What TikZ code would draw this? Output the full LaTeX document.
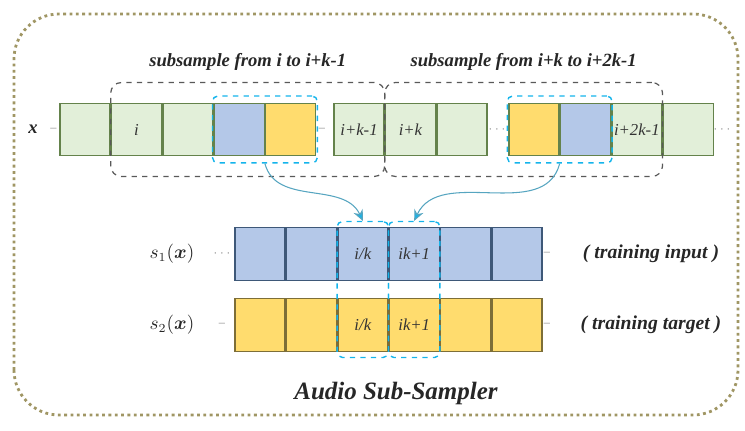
\documentclass[tikz,border=0pt]{standalone}
\usepackage{fontspec}
\usepackage{bm}
\setmainfont{Liberation Serif}
\usetikzlibrary{positioning,fit,arrows.meta}

\definecolor{cellgreen}{RGB}{226,239,217}
\definecolor{linegreen}{RGB}{100,130,75}
\definecolor{cellblue}{RGB}{180,200,232}
\definecolor{lineblue}{RGB}{62,88,120}
\definecolor{cellyellow}{RGB}{255,220,110}
\definecolor{lineyellow}{RGB}{125,110,55}
\definecolor{cyanline}{RGB}{20,180,235}
\definecolor{frameolive}{RGB}{160,150,100}

\tikzset{
  cell/.style={draw, line width=0.8pt, minimum width=1cm, minimum height=1.05cm, inner sep=0pt,
    font=\fontsize{9.5}{10}\selectfont\itshape, text=black!80},
  gcell/.style={cell, fill=cellgreen, draw=linegreen},
  bcell/.style={cell, fill=cellblue, draw=lineblue},
  ycell/.style={cell, fill=cellyellow, draw=lineyellow},
  lbl/.style={font=\fontsize{10.6}{12}\selectfont\bfseries\itshape, text=black!85},
  gap/.style={font=\fontsize{7}{8}\selectfont, text=black!45, inner sep=0pt},
  grpbox/.style={draw=black!65, dashed, line width=0.7pt, rounded corners=6pt, inner xsep=0pt, inner ysep=0.4cm},
  pickbox/.style={draw=cyanline, dashed, line width=0.8pt, rounded corners=3pt},
  flow/.style={draw=cyanline!70!black!70, line width=0.6pt, -{Stealth[length=2.2mm, width=2mm, fill=cyanline]}},
  frame/.style={draw=frameolive, dotted, line width=1.6pt, rounded corners=0.9cm}
}

\begin{document}
\begin{tikzpicture}
\useasboundingbox (0,0) rectangle (14.9,8.6);

% Outer frame
\draw[frame] (0.28,0.3) rectangle (14.76,8.32);

% Input sequence x
\node[lbl] (X) at (0.66,6.01) {x};
\node[gap] (D0) at (1.07,6.01) {--};
\node[gcell] (A1) at (1.7,6.01) {};
\node[gcell, right=0pt of A1] (A2) {i};
\node[gcell, right=0pt of A2] (A3) {};
\node[bcell, draw=linegreen, right=0pt of A3] (A4) {};
\node[ycell, draw=linegreen, right=0pt of A4] (A5) {};
\node[gap] (D1) at (6.44,6.01) {--};
\node[gcell] (B1) at (7.18,6.01) {i+k-1};
\node[gcell, right=0pt of B1] (B2) {i+k};
\node[gcell, right=0pt of B2] (B3) {};
\node[gap] (D2) at (9.94,6.01) {$\cdots$};
\node[ycell, draw=linegreen] (C1) at (10.68,6.01) {};
\node[bcell, draw=linegreen, right=0pt of C1] (C2) {};
\node[gcell, right=0pt of C2] (C3) {i+2k-1};
\node[gcell, right=0pt of C3] (C4) {};
\node[gap] (D3) at (14.44,6.01) {$\cdots$};

% Two subsample groups
\node[grpbox, fit=(A2)(B1)] (G1) {};
\node[grpbox, fit=(B2)(C3)] (G2) {};
\node[lbl, above=0.1cm of G1] (T1) {subsample from i to i+k-1};
\node[lbl, above=0.1cm of G2] (T2) {subsample from i+k to i+2k-1};

% Picked samples
\node[pickbox, inner xsep=0.02cm, inner ysep=0.13cm, fit=(A4)(A5)] (H1) {};
\node[pickbox, inner xsep=0.02cm, inner ysep=0.13cm, fit=(C1)(C2)] (H2) {};

% Sub-sampled sequences
\node[lbl, font=\fontsize{10.5}{12}\selectfont] (S1) at (3.44,3.52) {$s_1(\bm{x})$};
\node[gap] (E1) at (4.44,3.52) {$\cdots$};
\node[bcell] (P1) at (5.2,3.52) {};
\node[bcell, right=0pt of P1] (P2) {};
\node[bcell, right=0pt of P2] (P3) {i/k};
\node[bcell, right=0pt of P3] (P4) {ik+1};
\node[bcell, right=0pt of P4] (P5) {};
\node[bcell, right=0pt of P5] (P6) {};
\node[gap] (F1) at (10.94,3.52) {--};
\node[lbl, font=\fontsize{11.2}{13}\selectfont\bfseries\itshape] (L1) at (13.02,3.52) {( training input )};

\node[lbl, font=\fontsize{10.5}{12}\selectfont] (S2) at (3.44,2.1) {$s_2(\bm{x})$};
\node[gap] (E2) at (4.44,2.1) {--};
\node[ycell] (Q1) at (5.2,2.1) {};
\node[ycell, right=0pt of Q1] (Q2) {};
\node[ycell, right=0pt of Q2] (Q3) {i/k};
\node[ycell, right=0pt of Q3] (Q4) {ik+1};
\node[ycell, right=0pt of Q4] (Q5) {};
\node[ycell, right=0pt of Q5] (Q6) {};
\node[gap] (F2) at (10.94,2.1) {--};
\node[lbl, font=\fontsize{11.2}{13}\selectfont\bfseries\itshape] (L2) at (13.02,2.1) {( training target )};

\node[pickbox, inner xsep=0pt, inner ysep=0.11cm, fit=(P3)(Q3)] (V1) {};
\node[pickbox, inner xsep=0pt, inner ysep=0.11cm, fit=(P4)(Q4)] (V2) {};

\draw[flow] (H1.south) to[out=-75, in=115] (V1.north);
\draw[flow] (H2.south) to[out=-105, in=65] (V2.north);

\node[lbl, font=\fontsize{14.2}{16}\selectfont\bfseries\itshape] (N) at (7.92,0.74) {Audio Sub-Sampler};
\end{tikzpicture}
\end{document}
